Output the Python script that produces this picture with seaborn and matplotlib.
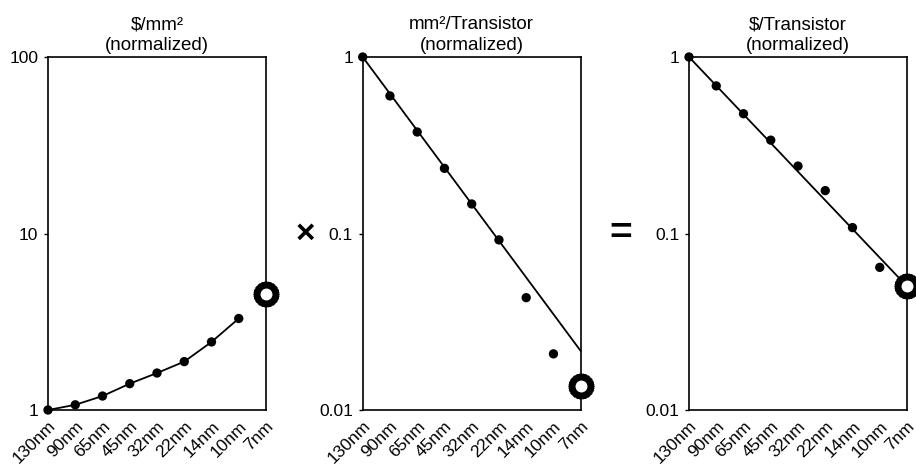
import matplotlib
matplotlib.use("Agg")
import matplotlib.pyplot as plt
import seaborn as sns
import pandas as pd
from matplotlib.ticker import FixedLocator, FixedFormatter, NullLocator

# ---------------- data ----------------
nodes = ["130nm", "90nm", "65nm", "45nm", "32nm", "22nm", "14nm", "10nm", "7nm"]

cost_per_area = [1.0, 1.07, 1.20, 1.41, 1.62, 1.88, 2.43, 3.30]   # 130nm..10nm
cost_per_area_7nm = 4.54

area_per_tr = [1.0, 0.602, 0.376, 0.234, 0.147, 0.092, 0.0433, 0.0208]
area_per_tr_7nm = 0.0137
area_trend = [1.0, 0.0216]          # trend line 130nm -> 7nm

cost_per_tr = [1.0, 0.686, 0.477, 0.338, 0.241, 0.175, 0.108, 0.0643]
cost_per_tr_7nm = 0.0502
cost_trend = [1.0, 0.0502]          # trend line 130nm -> 7nm

titles = ["$/mm²\n(normalized)", "mm²/Transistor\n(normalized)", "$/Transistor\n(normalized)"]
ylims = [(1, 100), (0.01, 1), (0.01, 1)]
yticks = [[1, 10, 100], [0.01, 0.1, 1], [0.01, 0.1, 1]]
yticklabels = [["1", "10", "100"], ["0.01", "0.1", "1"], ["0.01", "0.1", "1"]]
operators = ["×", "="]

# ---------------- style ----------------
sns.set_theme(style="white")
plt.rcParams["font.family"] = ["Liberation Sans", "DejaVu Sans"]
plt.rcParams["text.parse_math"] = False

W, H = 916, 466
fig = plt.figure(figsize=(W / 100, H / 100), dpi=100)

lefts = [48, 362.7, 689]
width = 218
top, bottom = 57, 410
axes = [fig.add_axes([l / W, (H - bottom) / H, width / W, (bottom - top) / H]) for l in lefts]

series = [cost_per_area, area_per_tr, cost_per_tr]
suns = [cost_per_area_7nm, area_per_tr_7nm, cost_per_tr_7nm]
trends = [None, area_trend, cost_trend]
last = len(nodes) - 1

for i, ax in enumerate(axes):
    vals = series[i]
    df = pd.DataFrame({"x": list(range(len(vals))), "y": vals})
    if trends[i] is None:
        sns.lineplot(data=df, x="x", y="y", ax=ax, color="black", linewidth=1.3,
                     zorder=3, clip_on=False)
    else:
        tdf = pd.DataFrame({"x": [0, last], "y": trends[i]})
        sns.lineplot(data=tdf, x="x", y="y", ax=ax, color="black", linewidth=1.3,
                     zorder=3, clip_on=False)
    sns.scatterplot(data=df, x="x", y="y", ax=ax, color="black", s=45,
                    edgecolor="none", zorder=4, clip_on=False)
    # sunburst marker at 7nm
    ax.plot([last], [suns[i]], marker=(44, 2, 0), ms=18.5, mew=0.9, color="black",
            clip_on=False, zorder=10, linestyle="none")
    ax.plot([last], [suns[i]], marker="o", ms=11.5, mfc="white", mec="black", mew=2.9,
            clip_on=False, zorder=11, linestyle="none")

    ax.set_yscale("log")
    ax.set_ylim(*ylims[i])
    ax.set_xlim(0, last)
    ax.yaxis.set_major_locator(FixedLocator(yticks[i]))
    ax.yaxis.set_major_formatter(FixedFormatter(yticklabels[i]))
    ax.yaxis.set_minor_locator(NullLocator())
    ax.set_xticks(range(len(nodes)))
    ax.set_xticklabels(nodes, rotation=45, ha="right", rotation_mode="anchor")
    ax.tick_params(axis="y", which="major", length=3, width=1, direction="out",
                   left=True, labelsize=12.5, pad=4, colors="black")
    ax.tick_params(axis="x", length=0, labelsize=12.5, pad=6, colors="black")
    ax.set_xlabel("")
    ax.set_ylabel("")
    for s in ax.spines.values():
        s.set_visible(True)
        s.set_color("black")
        s.set_linewidth(1.2)
    ax.set_title(titles[i], fontsize=13.5, pad=5, linespacing=1.3, color="black")

fig.text(305 / W, 1 - 234 / H, operators[0], fontsize=24, fontweight="bold",
         ha="center", va="center", color="black")
fig.text(621 / W, 1 - 234 / H, operators[1], fontsize=28, fontweight="bold",
         ha="center", va="center", color="black")

fig.savefig("out.png", dpi=100, facecolor="white")
